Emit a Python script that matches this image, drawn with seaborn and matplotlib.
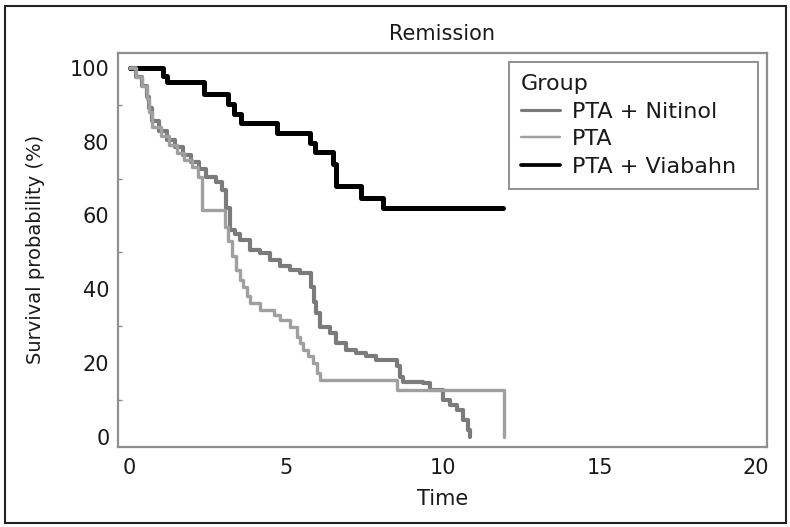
import matplotlib
matplotlib.use("Agg")
import matplotlib.pyplot as plt
from matplotlib.patches import Rectangle
from matplotlib.ticker import MultipleLocator
import numpy as np
import pandas as pd
import seaborn as sns

# Kaplan-Meier step curves: event times and survival (%) for each group
groups = ["PTA + Nitinol", "PTA", "PTA + Viabahn"]

nitinol_time = [0, 0.2, 0.4, 0.55, 0.63, 0.7, 0.95, 1.2, 1.45, 1.7, 1.95, 2.2, 2.45,
                2.75, 2.95, 3.08, 3.19, 3.35, 3.51, 3.83, 4.15, 4.47, 4.79, 5.11, 5.43,
                5.78, 5.88, 5.96, 6.07, 6.39, 6.6, 6.92, 7.24, 7.56, 7.88, 8.52, 8.63,
                8.73, 9.37, 9.58, 10.0, 10.22, 10.44, 10.65, 10.8, 10.88]
nitinol_surv = [100, 97.5, 95, 92, 89, 85.5, 83, 80.5, 78.5, 76.5, 74.5, 72.5, 70.5,
                69, 67, 62, 56.1, 55, 53.4, 50.7, 49.8, 48.0, 46.2, 45.3, 44.4,
                40.7, 36.5, 33.5, 29.9, 28.1, 25.4, 23.6, 22.7, 21.8, 20.9, 19.1, 16.3,
                15.0, 14.5, 12.7, 10.0, 8.6, 7.3, 4.6, 1.9, 0]

pta_time = [0, 0.2, 0.4, 0.55, 0.63, 0.7, 1.0, 1.25, 1.5, 1.75, 2.0, 2.18, 2.3,
            3.04, 3.15, 3.28, 3.41, 3.52, 3.62, 3.75, 3.85, 4.15, 4.6, 4.79, 5.11,
            5.33, 5.45, 5.54, 5.7, 5.86, 5.98, 6.07, 8.52, 11.96]
pta_surv = [100, 97.5, 95, 91.5, 88, 84, 81.5, 79, 77, 75, 73, 70.5, 61.5,
            57, 53, 49, 45.3, 42.5, 40.7, 38.3, 36.2, 34.4, 33.0, 31.7, 29.9,
            27.2, 25.4, 23.6, 21.8, 20.0, 17.3, 15.4, 12.7, 0]

viabahn_time = [0, 1.05, 1.2, 2.38, 3.15, 3.32, 3.55, 4.69, 5.75, 5.92, 6.5, 6.58,
                7.38, 8.1, 11.93]
viabahn_surv = [100, 97.9, 96.2, 92.8, 90.2, 87.4, 85.0, 82.4, 79.6, 77.3, 74.0, 68.0,
                64.6, 62.0, 62.0]

x_ticks = [0, 5, 10, 15, 20]
y_ticks = [0, 20, 40, 60, 80, 100]

series = {
    "PTA + Nitinol": (nitinol_time, nitinol_surv),
    "PTA": (pta_time, pta_surv),
    "PTA + Viabahn": (viabahn_time, viabahn_surv),
}
colors = {"PTA + Nitinol": "#7b7b7b", "PTA": "#a0a0a0", "PTA + Viabahn": "#000000"}
widths = {"PTA + Nitinol": 3.0, "PTA": 2.4, "PTA + Viabahn": 3.6}
zorders = {"PTA + Nitinol": 3, "PTA": 4, "PTA + Viabahn": 2}

frames = []
for g in groups:
    t, s = series[g]
    frames.append(pd.DataFrame({"Time": t, "Survival": s, "Group": g}))
df = pd.concat(frames, ignore_index=True)

sns.set_style("white")
plt.rcParams["font.family"] = ["DejaVu Sans"]
FS = 15
TXT = "#1a1a1a"

fig = plt.figure(figsize=(7.9, 5.27), dpi=100)
ax = fig.add_axes([0.149, 0.152, 0.822, 0.748])

for g in groups:
    sub = df[df["Group"] == g]
    sns.lineplot(data=sub, x="Time", y="Survival", ax=ax, color=colors[g],
                 linewidth=widths[g], drawstyle="steps-post", estimator=None,
                 label=g, zorder=zorders[g])

ax.set_xlim(-0.38, 20.35)
ax.set_ylim(-2.7, 104.1)
ax.set_xticks(x_ticks)
ax.set_yticks(y_ticks)
ax.yaxis.set_minor_locator(MultipleLocator(10))
ax.tick_params(axis="both", which="major", direction="in", length=5, width=1,
               color="#8a8a8a", labelsize=FS, labelcolor=TXT)
ax.tick_params(axis="y", which="major", pad=6)
ax.tick_params(axis="x", which="major", pad=8)
ax.tick_params(axis="y", which="minor", direction="in", length=3, width=1,
               color="#8a8a8a", left=True)

for sp in ax.spines.values():
    sp.set_color("#8f8f8f")
    sp.set_linewidth(1.6)

ax.set_title("Remission", fontsize=FS, color=TXT, pad=9)
ax.set_xlabel("Time", fontsize=FS, color=TXT, labelpad=8)
ax.set_ylabel("Survival probability (%)", fontsize=14, color=TXT, labelpad=18)

handles, labels = ax.get_legend_handles_labels()
leg = ax.legend(handles, labels, title="Group", loc="upper left",
                bbox_to_anchor=(0.6025, 0.66, 0.3836, 0.317), mode="expand",
                borderaxespad=0, frameon=True, fancybox=False, framealpha=1,
                edgecolor="#8f8f8f", fontsize=16, title_fontsize=16,
                handlelength=1.75, handletextpad=0.55, labelspacing=0.34,
                alignment="left", borderpad=0.55)
leg.get_frame().set_linewidth(1.4)
for line in leg.get_lines():
    line.set_linewidth(line.get_linewidth() * 0.75)
for txt in leg.get_texts():
    txt.set_color(TXT)
leg.get_title().set_color(TXT)

fig.patches.append(Rectangle((5 / 790, 4 / 527), 781 / 790, 517 / 527,
                             transform=fig.transFigure, fill=False,
                             edgecolor="#222222", linewidth=1.5))

fig.savefig("out.png", dpi=100, facecolor="white")
